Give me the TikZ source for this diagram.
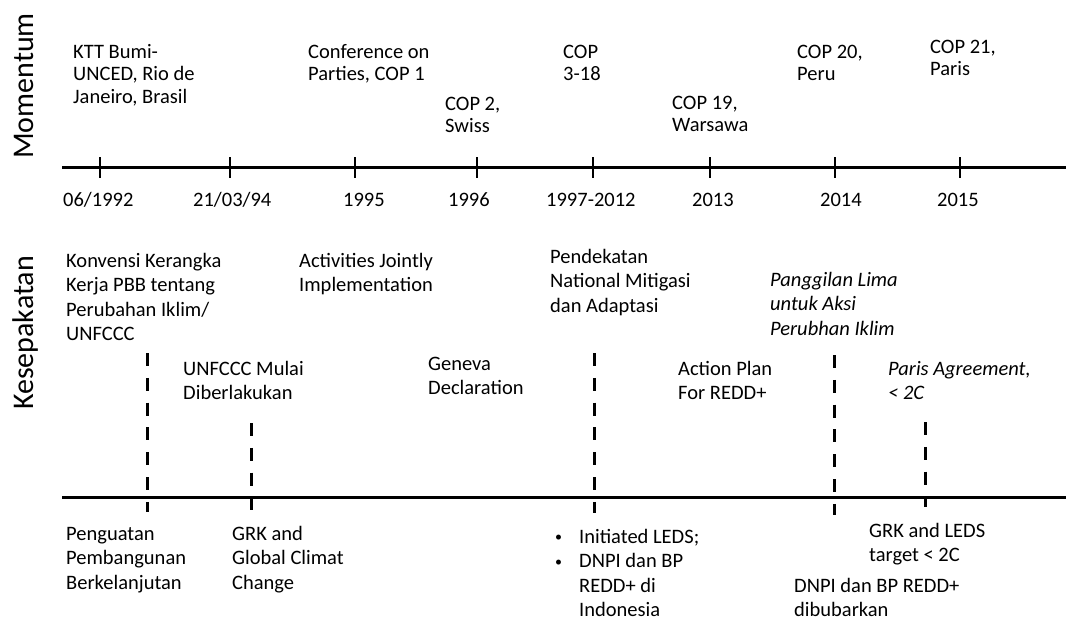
\documentclass[tikz,border=0pt]{standalone}
\usepackage{fontspec}
\setmainfont{Carlito}
\newcommand{\smbul}{\raisebox{1.5pt}{\fontsize{14}{14}\selectfont •}}
\begin{document}
\begin{tikzpicture}[x=1pt,y=-1pt,
  lbl/.style={anchor=base west, inner sep=0pt, align=left, font=\fontsize{20.5}{22.5}\selectfont},
  lblb/.style={anchor=base west, inner sep=0pt, align=left, font=\fontsize{20.5}{24.5}\selectfont},
  lbli/.style={lblb, font=\fontsize{20.5}{24.5}\selectfont\itshape},
  yr/.style={anchor=base west, inner sep=0pt, font=\fontsize{20.5}{24}\selectfont},
  side/.style={rotate=90, anchor=base, inner sep=0pt, font=\fontsize{30}{36}\selectfont},
  axisline/.style={line width=3pt},
  tickline/.style={line width=2.5pt},
  dline/.style={line width=3pt, dash pattern=on 13pt off 11.8pt}]
\useasboundingbox (0,0) rectangle (1066,621);

% side titles
\node[side] (momentum) at (34,86) {Momentum};
\node[side] (kesepakatan) at (34,333) {Kesepakatan};

% ---------- Momentum axis ----------
\coordinate (a1s) at (62,167);
\coordinate (a1e) at (1066,167);
\draw[axisline] (a1s) -- (a1e);
\foreach \n/\x in {t1/100,t2/230,t3/355,t4/477,t5/593,t6/710,t7/835,t8/960}{
  \coordinate (\n a) at (\x,157);
  \coordinate (\n b) at (\x,178);
  \draw[tickline] (\n a) -- (\n b);
}

\node[yr] (y1) at (63,206) {06/1992};
\node[yr] (y2) at (193,206) {21/03/94};
\node[yr] (y3) at (343,206) {1995};
\node[yr] (y4) at (448,206) {1996};
\node[yr] (y5) at (546,206) {1997-2012};
\node[yr] (y6) at (692,206) {2013};
\node[yr] (y7) at (820,206) {2014};
\node[yr] (y8) at (937,206) {2015};

% (anchor = baseline of the LAST line)
\node[lbl] (ktt) at (73,103) {KTT Bumi-\\UNCED, Rio de\\Janeiro, Brasil};
\node[lbl] (cop1) at (308,80.5) {Conference on\\Parties, COP 1};
\node[lbl] (cop2) at (445,132.5) {COP 2,\\Swiss};
\node[lbl] (cop3) at (563,80.5) {COP\\3-18};
\node[lbl] (cop19) at (672,131.5) {COP 19,\\Warsawa};
\node[lbl] (cop20) at (797,80.5) {COP 20,\\Peru};
\node[lbl] (cop21) at (930,75.5) {COP 21,\\Paris};

% ---------- Kesepakatan axis ----------
\coordinate (a2s) at (62,497);
\coordinate (a2e) at (1066,497);
\draw[axisline] (a2s) -- (a2e);

\foreach \n/\x/\ya/\yb in {d1/147/353/512,d2/251/423/512,d3/594/353/513,d4/834/355/515,d5/925/422/507}{
  \coordinate (\n a) at (\x,\ya);
  \coordinate (\n b) at (\x,\yb);
  \draw[dline] (\n a) -- (\n b);
}

\node[lblb] (konv) at (66,340.5) {Konvensi Kerangka\\Kerja PBB tentang\\Perubahan Iklim/\\UNFCCC};
\node[lblb] (aji) at (299,291.5) {Activities Jointly\\Implementation};
\node[lblb] (mulai) at (183,399.5) {UNFCCC Mulai\\Diberlakukan};
\node[lblb] (geneva) at (428,394.5) {Geneva\\Declaration};
\node[lblb] (pend) at (550,312) {Pendekatan\\National Mitigasi\\dan Adaptasi};
\node[lblb] (action) at (678,399.5) {Action Plan\\For REDD+};
\node[lbli] (lima) at (770,335) {Panggilan Lima\\untuk Aksi\\Perubhan Iklim};
\node[lbli] (paris) at (888,399.5) {Paris Agreement,\\< 2C};

\node[lblb] (peng) at (66,589) {Penguatan\\Pembangunan\\Berkelanjutan};
\node[lblb] (grk1) at (232,589) {GRK and\\Global Climat\\Change};
\node[lblb] (leds) at (555,616.5) {\makebox[24pt][l]{\smbul}Initiated LEDS;\\\makebox[24pt][l]{\smbul}DNPI dan BP\\\hspace*{24pt}REDD+ di\\\hspace*{24pt}Indonesia};
\node[lblb] (grk2) at (869,561.5) {GRK and LEDS\\target < 2C};
\node[lblb] (bubar) at (794,616.5) {DNPI dan BP REDD+\\dibubarkan};
\end{tikzpicture}
\end{document}
